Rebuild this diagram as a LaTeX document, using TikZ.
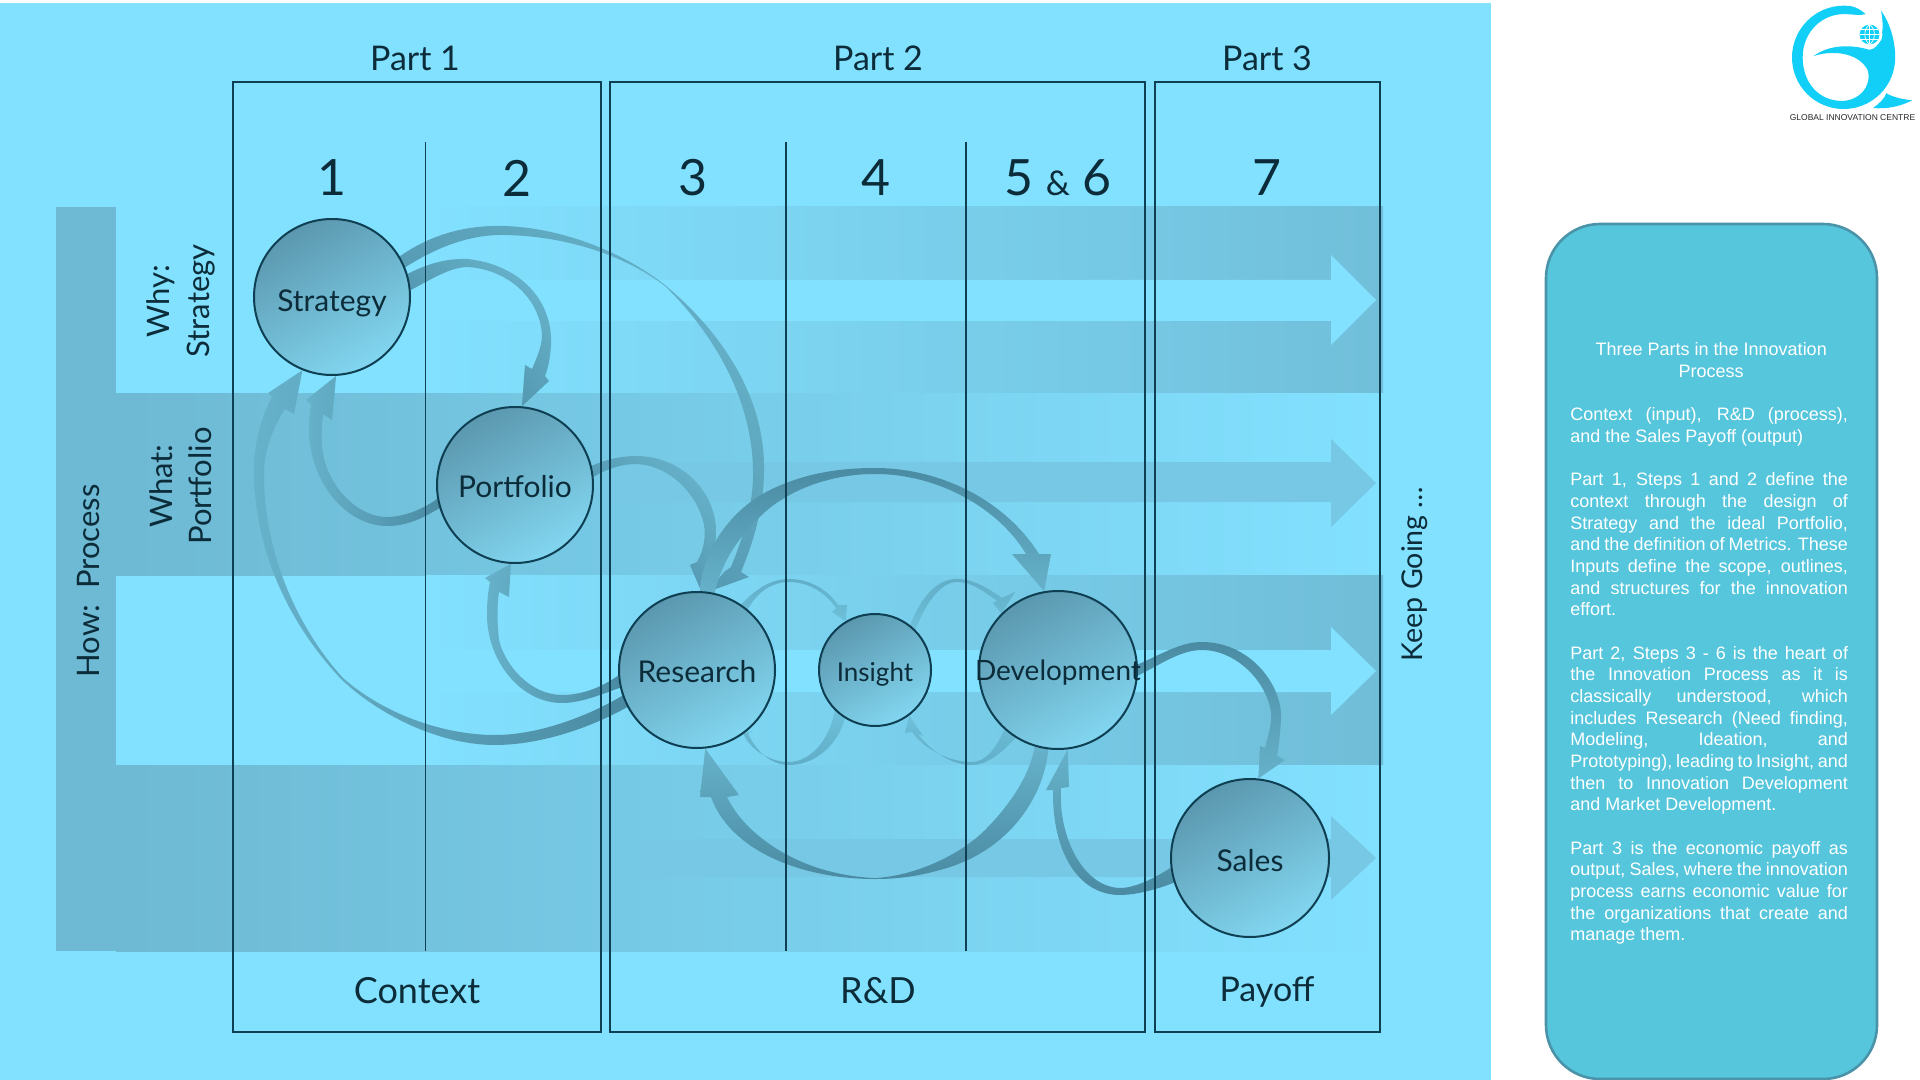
\documentclass[tikz,border=0pt]{standalone}
\usepackage{fontspec}
\setmainfont{Lato}
\newfontfamily\panelfont{Liberation Sans}
\definecolor{bgblue}{HTML}{82E1FF}
\definecolor{bandd}{HTML}{6EB9D3}
\definecolor{arrowd}{HTML}{76C8E4}
\definecolor{ink}{HTML}{0C2C3A}
\definecolor{rule}{HTML}{0F3F52}
\definecolor{flowd}{HTML}{4A8BA3}
\definecolor{flowl}{HTML}{66B2CA}
\definecolor{cird}{HTML}{5B98AF}
\definecolor{cirl}{HTML}{82D6F0}
\definecolor{panelfill}{HTML}{55C6DC}
\definecolor{paneledge}{HTML}{4A93A8}
\definecolor{logoc}{HTML}{12CFF8}
\newcommand{\fsz}[1]{\fontsize{#1}{#1}\selectfont}
\newcommand{\ctr}[2][-6pt]{\makebox[0pt][c]{\smash{\raisebox{#1}{#2}}}}
\pgfdeclarelayer{flows}
\pgfsetlayers{flows,main}
\tikzset{
  proc/.style={circle,draw=rule,line width=1pt,inner sep=0pt,top color=cird,bottom color=cirl,shading angle=30,minimum size=78pt,text=ink,font=\fsz{15}},
  flow/.style={left color=flowd,right color=flowl,shading angle=#1},
  thinflow/.style={left color=flowd!60!bgblue,right color=flowl!70!bgblue,shading angle=#1},
  partbox/.style={draw=rule,line width=1.3pt},
  divider/.style={draw=rule,line width=.7pt},
  lab/.style={text=ink,inner sep=0pt},
}
\begin{document}
\begin{tikzpicture}[x=0.5pt,y=-0.5pt]
\useasboundingbox (0,0) rectangle (1920,1080);
\begin{pgfonlayer}{flows}
\fill[white] (0,0) rectangle (1920,1080);
\fill[bgblue] (0,3) rectangle (1491,1080);
% bands
\fill[bandd] (56,207) rectangle (116,951);
\shade[left color=bgblue,right color=bandd!85!bgblue] (425,207) rectangle (1383,393);
\shade[left color=bandd,right color=bgblue] (116,393) rectangle (1383,575);
\shade[left color=bgblue,right color=bandd!90!bgblue] (425,575) rectangle (1383,765);
\shade[left color=bandd,right color=bgblue] (116,765) rectangle (1383,951);
% band arrows
\fill[bgblue] (425,280) -- (1331,280) -- (1331,255) -- (1376,300) -- (1331,345) -- (1331,321) -- (425,321) -- cycle;
\fill[arrowd] (560,462) -- (1331,462) -- (1331,439) -- (1376,483) -- (1331,527) -- (1331,502) -- (560,502) -- cycle;
\fill[bgblue] (425,650) -- (1331,650) -- (1331,627) -- (1376,671) -- (1331,715) -- (1331,692) -- (425,692) -- cycle;
\fill[arrowd] (640,839) -- (1331,839) -- (1331,816) -- (1376,858) -- (1331,900) -- (1331,877) -- (640,877) -- cycle;
\end{pgfonlayer}
% part boxes
\draw[partbox] (233,82) rectangle (601,1032);
\draw[partbox] (610,82) rectangle (1145,1032);
\draw[partbox] (1155,82) rectangle (1380,1032);
\draw[divider] (425.5,142) -- (425.5,951);
\draw[divider] (786,142) -- (786,951);
\draw[divider] (966,142) -- (966,951);
\node[proc] (strategy) at (332,297) {\ctr[-7.5pt]{Strategy}};
\node[proc] (portfolio) at (515,485) {\ctr{Portfolio}};
\node[proc] (research) at (697,670) {\ctr{Research}};
\node[proc,minimum size=56pt,font=\fsz{13}] (insight) at (875,670) {\ctr[-5.5pt]{Insight}};
\node[proc,minimum size=79pt,font=\fsz{14}] (development) at (1058,670) {\ctr[-5pt]{Development}};
\node[proc,minimum size=79pt] (sales) at (1250,858) {\ctr[-6.5pt]{Sales}};
% connectors
\begin{pgfonlayer}{flows}
\shade[flow=-225] (strategy.17) .. controls (425,265) and (445,258) .. (468,259) .. controls (520,265) and (553,300) .. (551,345) .. controls (550,360) and (548,368) .. (545,376) -- (549,381) -- (portfolio.85) -- (525,365) -- (532,369) .. controls (538,355) and (542,345) .. (542,335) .. controls (540,300) and (510,270) .. (468,267) .. controls (450,267) and (430,280) .. (strategy.5) -- cycle;
\shade[flow=-225] (strategy.31) .. controls (435,232) and (470,225) .. (505,226) .. controls (560,228) and (620,250) .. (665,285) .. controls (725,335) and (765,400) .. (764,470) .. controls (764,510) and (752,545) .. (741,572) -- (749,577) -- (research.82) -- (724,572) -- (731,567) .. controls (742,540) and (754,505) .. (753,470) .. controls (752,400) and (715,335) .. (665,286) .. controls (620,252) and (560,236) .. (505,235) .. controls (470,234) and (435,248) .. (strategy.22) -- cycle;
\shade[flow=-225] (portfolio.14) .. controls (605,460) and (620,456) .. (636,456) .. controls (680,456) and (715,490) .. (716,530) .. controls (716,545) and (714,553) .. (711,560) -- (716,562) -- (research.87) -- (690,565) -- (697,562) .. controls (704,550) and (706,535) .. (704,525) .. controls (698,495) and (670,465) .. (636,464) .. controls (620,464) and (605,470) .. (portfolio.6) -- cycle;
\shade[flow=0] (research.88) .. controls (703,550) and (730,510) .. (770,490) .. controls (805,473) and (840,468) .. (875,468) .. controls (940,468) and (1005,500) .. (1039,554) -- (1051,554) -- (development.100) -- (1012,554) -- (1026,554) .. controls (1000,510) and (940,474) .. (875,474) .. controls (830,474) and (790,490) .. (765,512) .. controls (740,535) and (722,560) .. (research.77) -- cycle;
\shade[thinflow=0] (research.56) .. controls (755,590) and (770,579) .. (789,579) .. controls (810,579) and (828,590) .. (838,605) -- (847,605) -- (insight.121) -- (832,612) -- (836,608) .. controls (825,592) and (808,582) .. (789,582) .. controls (772,582) and (757,592) .. (research.50) -- cycle;
\shade[thinflow=0] (insight.52) .. controls (920,600) and (935,579) .. (957,579) .. controls (975,579) and (990,590) .. (1002,598) -- (1015,592) -- (development.135) -- (993,603) -- (997,601) .. controls (985,592) and (972,582) .. (957,582) .. controls (940,582) and (925,605) .. (insight.45) -- cycle;
\shade[thinflow=180] (development.238) .. controls (1000,755) and (985,765) .. (972,765) .. controls (950,765) and (930,750) .. (918,734) -- (923,736) -- (insight.307) -- (905,733) -- (912,732) .. controls (925,750) and (950,762) .. (972,762) .. controls (985,762) and (995,750) .. (development.228) -- cycle;
\shade[thinflow=180] (insight.238) .. controls (838,745) and (815,765) .. (789,765) .. controls (770,765) and (755,750) .. (748,733) -- (753,731) -- (research.307) -- (733,733) -- (743,733) .. controls (750,750) and (770,762) .. (789,762) .. controls (810,762) and (830,740) .. (insight.225) -- cycle;
\shade[flow=-180] (development.263) .. controls (1045,790) and (1015,850) .. (940,870) .. controls (915,877) and (895,879) .. (875,879) .. controls (800,879) and (730,850) .. (711,797) -- (700,797) -- (research.276) -- (739,795) -- (727,797) .. controls (745,835) and (800,875) .. (875,878) .. controls (915,876) and (960,855) .. (985,830) .. controls (1010,805) and (1030,775) .. (development.253) -- cycle;
\shade[flow=-180] (sales.198) .. controls (1155,890) and (1135,895) .. (1120,895) .. controls (1077,895) and (1052,850) .. (1053,790) -- (1046,790) -- (development.277) -- (1069,787) -- (1061,788) .. controls (1058,835) and (1082,887) .. (1120,888) .. controls (1135,888) and (1155,878) .. (sales.187) -- cycle;
\shade[flow=0] (development.4) .. controls (1160,655) and (1180,642) .. (1202,642) .. controls (1250,642) and (1283,685) .. (1281,720) .. controls (1280,735) and (1279,745) .. (1277,756) -- (1285,760) -- (sales.84) -- (1260,746) -- (1265,748) .. controls (1268,735) and (1272,725) .. (1271,712) .. controls (1266,680) and (1235,650) .. (1202,650) .. controls (1180,650) and (1160,665) .. (development.-4) -- cycle;
\shade[flow=-90] (research.208) .. controls (590,728) and (540,745) .. (495,745) .. controls (445,745) and (385,720) .. (342,680) .. controls (285,620) and (254,545) .. (254,470) .. controls (254,445) and (260,420) .. (272,397) -- (268,393) -- (strategy.248) -- (294,414) -- (285,409) .. controls (272,430) and (264,450) .. (264,475) .. controls (264,550) and (295,625) .. (343,678) .. controls (385,715) and (445,735) .. (495,735) .. controls (540,735) and (590,715) .. (research.199) -- cycle;
\shade[flow=-90] (research.193) .. controls (600,695) and (580,703) .. (562,703) .. controls (520,703) and (487,660) .. (487,615) .. controls (487,602) and (488,592) .. (490,582) -- (485,578) -- (portfolio.267) -- (509,597) -- (499,592) .. controls (497,605) and (497,620) .. (499,640) .. controls (505,665) and (530,695) .. (562,695) .. controls (585,695) and (605,685) .. (research.184) -- cycle;
\shade[flow=-90] (portfolio.197) .. controls (420,520) and (405,526) .. (387,526) .. controls (345,526) and (309,480) .. (309,430) .. controls (309,420) and (310,412) .. (311,404) -- (306,400) -- (strategy.273) -- (332,420) -- (323,414) .. controls (320,440) and (322,460) .. (330,475) .. controls (342,500) and (365,517) .. (387,517) .. controls (405,517) and (425,508) .. (portfolio.190) -- cycle;
\end{pgfonlayer}
% titles
\node[lab,font=\fsz{17}] (p1) at (415,58) {Part 1};
\node[lab,font=\fsz{17}] (p2) at (878,58) {Part 2};
\node[lab,font=\fsz{17}] (p3) at (1267,58) {Part 3};
\node[lab,font=\fsz{25}] (n1) at (332,178) {1};
\node[lab,font=\fsz{25}] (n2) at (517,178) {2};
\node[lab,font=\fsz{25}] (n3) at (693,178) {3};
\node[lab,font=\fsz{25}] (n4) at (876,178) {4};
\node[lab,font=\fsz{25}] (n56) at (1058,178) {5 {\fsz{17}\&} 6};
\node[lab,font=\fsz{25}] (n7) at (1267,178) {7};
\node[lab,font=\fsz{18}] (ctx) at (417,991) {Context};
\node[lab,font=\fsz{18}] (rd) at (878,991) {R\&D};
\node[lab,font=\fsz{17}] (pay) at (1267,992) {Payoff};
\node[lab,font=\fsz{15.5},rotate=90] (why) at (161,301) {Why:};
\node[lab,font=\fsz{15.5},rotate=90] (whys) at (201,301) {Strategy};
\node[lab,font=\fsz{15.5},rotate=90] (what) at (161,486) {What:};
\node[lab,font=\fsz{15.5},rotate=90] (whatp) at (200,486) {Portfolio};
\node[lab,font=\fsz{15.5},rotate=90] (how) at (89,581) {How:\ \ Process};
\node[lab,font=\fsz{14.3},rotate=90] (keep) at (1415,574) {Keep Going …};
% side panel
\draw[fill=panelfill,draw=paneledge,line width=1.3pt,rounded corners=27pt] (1546,224) rectangle (1877,1079);
\node[anchor=north west,inner sep=0pt,text=white] (txt) at (1570,342.5) {%
\begin{minipage}[t]{138.8pt}\panelfont\fontsize{9}{10.83}\selectfont
\setlength{\parindent}{0pt}\setlength{\parskip}{10.83pt}\hbadness=10000\hfuzz=5pt\tolerance=10000
{\centering\hspace*{2pt}Three Parts in the Innovation\\\hspace*{2pt}Process\par}
Context (input), R\&D (process),\linebreak and the Sales Payoff (output)\par
Part 1, Steps 1 and 2 define the\linebreak context through the design of\linebreak Strategy and the ideal Portfolio,\linebreak and the definition of Metrics. These\linebreak Inputs define the scope, outlines,\linebreak and structures for the innovation\linebreak effort.\par
Part 2, Steps 3 - 6 is the heart of\linebreak the Innovation Process as it is\linebreak classically understood, which\linebreak includes Research (Need finding,\linebreak Modeling, Ideation, and\linebreak Prototyping), leading to Insight, and\linebreak then to Innovation Development\linebreak and Market Development.\par
Part 3 is the economic payoff as\linebreak output, Sales, where the innovation\linebreak process earns economic value for\linebreak the organizations that create and\linebreak manage them.\par
\end{minipage}};
% logo
\begin{scope}[shift={(1772.4,-1.7)},x=0.178pt,y=-0.1757pt]
\fill[logoc] (262,45) .. controls (240,25) and (220,20) .. (200,21) .. controls (120,21) and (55,88) .. (55,168) .. controls (55,250) and (120,315) .. (200,315) .. controls (280,315) and (345,250) .. (345,168) .. controls (345,120) and (330,70) .. (305,35) .. controls (312,70) and (312,105) .. (298,128) .. controls (290,142) and (280,147) .. (270,146) .. controls (225,132) and (160,130) .. (115,165) .. controls (160,148) and (240,150) .. (268,205) .. controls (280,255) and (240,292) .. (195,292) .. controls (130,292) and (85,240) .. (85,168) .. controls (85,95) and (140,45) .. (200,45) .. controls (225,45) and (245,50) .. (262,45) -- cycle;
\fill[logoc] (283,312) .. controls (300,300) and (315,285) .. (320,270) .. controls (335,280) and (365,288) .. (393,290) .. controls (360,308) and (320,316) .. (283,312) -- cycle;
\fill[white] (273,103) circle[radius=36];
\fill[logoc] (273,103) circle[radius=28];
\draw[white,line width=.35pt] (245,103) -- (301,103) (273,75) -- (273,131) (250,88) -- (296,88) (250,118) -- (296,118);
\draw[white,line width=.35pt] (273,75) .. controls (255,87) and (255,119) .. (273,131) .. controls (291,119) and (291,87) .. (273,75);
\end{scope}
\node[text=black!85,inner sep=0pt,font=\panelfont\fsz{4.25}] (logotext) at (1852.5,118) {GLOBAL INNOVATION CENTRE};
\end{tikzpicture}
\end{document}
